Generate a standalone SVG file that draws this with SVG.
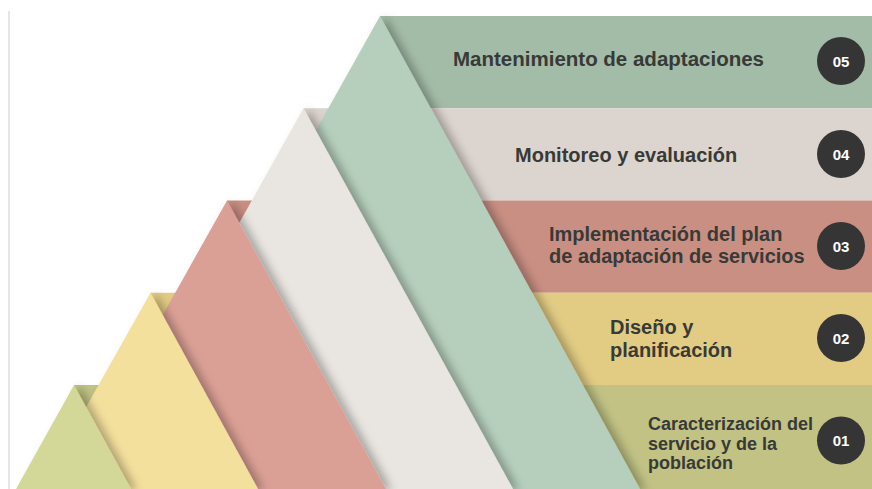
<svg xmlns="http://www.w3.org/2000/svg" width="872" height="489" viewBox="0 0 872 489">
  <defs>
    <filter id="sh" x="-10%" y="-10%" width="130%" height="130%">
      <feDropShadow dx="6" dy="1" stdDeviation="4.5" flood-color="#000" flood-opacity="0.28"/>
    </filter>
  </defs>
  <style>
    .lbl { font-family: "Liberation Sans", Arial, sans-serif; font-weight: 700; fill: #383a37; }
    .l20 { font-size: 20px; }
    .l18 { font-size: 18px; }
    .num { font-family: "Liberation Sans", Arial, sans-serif; font-weight: 700; font-size: 15px; fill: #ffffff; text-anchor: middle; }
    .badge { fill: #353535; }
  </style>
  <rect width="872" height="489" fill="#ffffff"/>
  <line x1="9" y1="11" x2="9" y2="489" stroke="#e6e6e6" stroke-width="2"/>

  <!-- horizontal bands -->
  <g id="bands">
    <rect x="380" y="16" width="492" height="92.25" fill="#a3bca7"/>
    <rect x="303.5" y="108.25" width="568.5" height="92.25" fill="#dcd4ce"/>
    <rect x="227" y="200.5" width="645" height="92.25" fill="#c98f83"/>
    <rect x="150.5" y="292.75" width="721.5" height="92.25" fill="#e2cc84"/>
    <rect x="74" y="385" width="798" height="104" fill="#c1c284"/>
  </g>

  <!-- mountains, back to front -->
  <g id="mountains">
    <polygon points="380,16 115,489 640,489" fill="#b6cfbc" filter="url(#sh)"/>
    <polygon points="303.5,108.25 90,489 513,489" fill="#e9e6e1" filter="url(#sh)"/>
    <polygon points="227,200.5 65,489 386,489" fill="#dba095" filter="url(#sh)"/>
    <polygon points="150.5,292.75 40,489 258,489" fill="#f4e09d" filter="url(#sh)"/>
    <polygon points="74,385 16,489 131,489" fill="#d3d898" filter="url(#sh)"/>
  </g>

  <g id="step05">
    <text class="lbl l20" x="453" y="66" textLength="311" lengthAdjust="spacingAndGlyphs">Mantenimiento de adaptaciones</text>
    <circle class="badge" cx="841" cy="61" r="24"/>
    <text class="num" x="841" y="66.5">05</text>
  </g>
  <g id="step04">
    <text class="lbl l20" x="515" y="162">Monitoreo y evaluación</text>
    <circle class="badge" cx="841" cy="154" r="24"/>
    <text class="num" x="841" y="159.5">04</text>
  </g>
  <g id="step03">
    <text class="lbl l20" x="549" y="241">Implementación del plan</text>
    <text class="lbl l20" x="549" y="263">de adaptación de servicios</text>
    <circle class="badge" cx="841" cy="246" r="24"/>
    <text class="num" x="841" y="251.5">03</text>
  </g>
  <g id="step02">
    <text class="lbl l20" x="610" y="334">Diseño y</text>
    <text class="lbl l20" x="610" y="356.5">planificación</text>
    <circle class="badge" cx="841" cy="338" r="24"/>
    <text class="num" x="841" y="343.5">02</text>
  </g>
  <g id="step01">
    <text class="lbl l18" x="648" y="430">Caracterización del</text>
    <text class="lbl l18" x="648" y="449.5">servicio y de la</text>
    <text class="lbl l18" x="648" y="469">población</text>
    <circle class="badge" cx="841" cy="440.5" r="24"/>
    <text class="num" x="841" y="446">01</text>
  </g>
</svg>
